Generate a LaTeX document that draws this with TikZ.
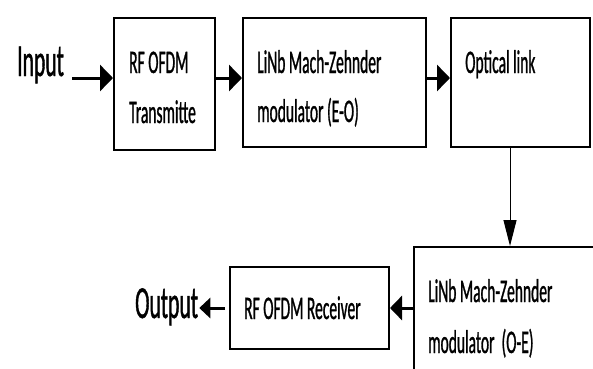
\documentclass[tikz,border=0pt]{standalone}
\usepackage{fontspec}
\newfontfamily\calfont[FakeStretch=0.47,FakeBold=0.8]{Carlito}
\usetikzlibrary{arrows.meta}
\tikzset{
  box/.style={draw=black, line width=2pt, anchor=north west, inner sep=0pt},
  txt/.style={anchor=base west, inner sep=0pt, font=\calfont\fontsize{33}{40}\selectfont},
  bigtxt/.style={anchor=base west, inner sep=0pt, font=\calfont\fontsize{46}{52}\selectfont},
  fatarrow/.style={line width=3pt, -{Triangle[length=13pt,width=26pt]}},
  thinarrow/.style={line width=1pt, -{Triangle[length=26pt,width=13pt]}},
}
\begin{document}
\begin{tikzpicture}[x=1pt,y=-1pt]
\useasboundingbox (0,0) rectangle (593,368);
\clip (0,0) rectangle (593,368);
\fill[white] (0,0) rectangle (593,368);
% boxes
\node[box, minimum width=101pt, minimum height=132pt] (b1) at (113,17) {};
\node[box, minimum width=183pt, minimum height=129pt] (b2) at (242,17) {};
\node[box, minimum width=139pt, minimum height=129pt] (b3) at (450,17) {};
\node[box, minimum width=220pt, minimum height=160pt] (b4) at (413,246) {};
\node[box, minimum width=159pt, minimum height=82pt] (b5) at (229,266) {};
% texts
\node[bigtxt] (in) at (17,76) {Input};
\node[txt] (t1a) at (129,73) {RF OFDM};
\node[txt] (t1b) at (129,123) {Transmitte};
\node[txt] (t2a) at (257,73) {LiNb Mach-Zehnder};
\node[txt] (t2b) at (257,122) {modulator (E-O)};
\node[txt] (t3) at (465,73) {Optical link};
\node[txt] (t4a) at (428,302) {LiNb Mach-Zehnder};
\node[txt] (t4b) at (428,353) {modulator~~(O-E)};
\node[txt] (t5) at (244,319) {RF OFDM Receiver};
\node[bigtxt] (out) at (135,318) {Output};
% helper coordinates
\coordinate (ay) at (0,78);
\coordinate (dx) at (510,0);
\coordinate (oc) at (225,308);
% connectors
\draw[fatarrow, shorten <=8pt] (in.east |- ay) -- (b1.west |- ay);
\draw[fatarrow] (b1.east |- ay) -- (b2.west |- ay);
\draw[fatarrow] (b2.east |- ay) -- (b3.west |- ay);
\draw[thinarrow] (b3.south -| dx) -- (b4.north -| dx);
\draw[fatarrow, -{Triangle[length=12pt,width=24pt]}] (b4.west |- b5.east) -- (b5.east);
\draw[fatarrow, -{Triangle[length=11pt,width=20pt]}, shorten >=1pt] (oc) -- (out.east |- oc);
\end{tikzpicture}
\end{document}
